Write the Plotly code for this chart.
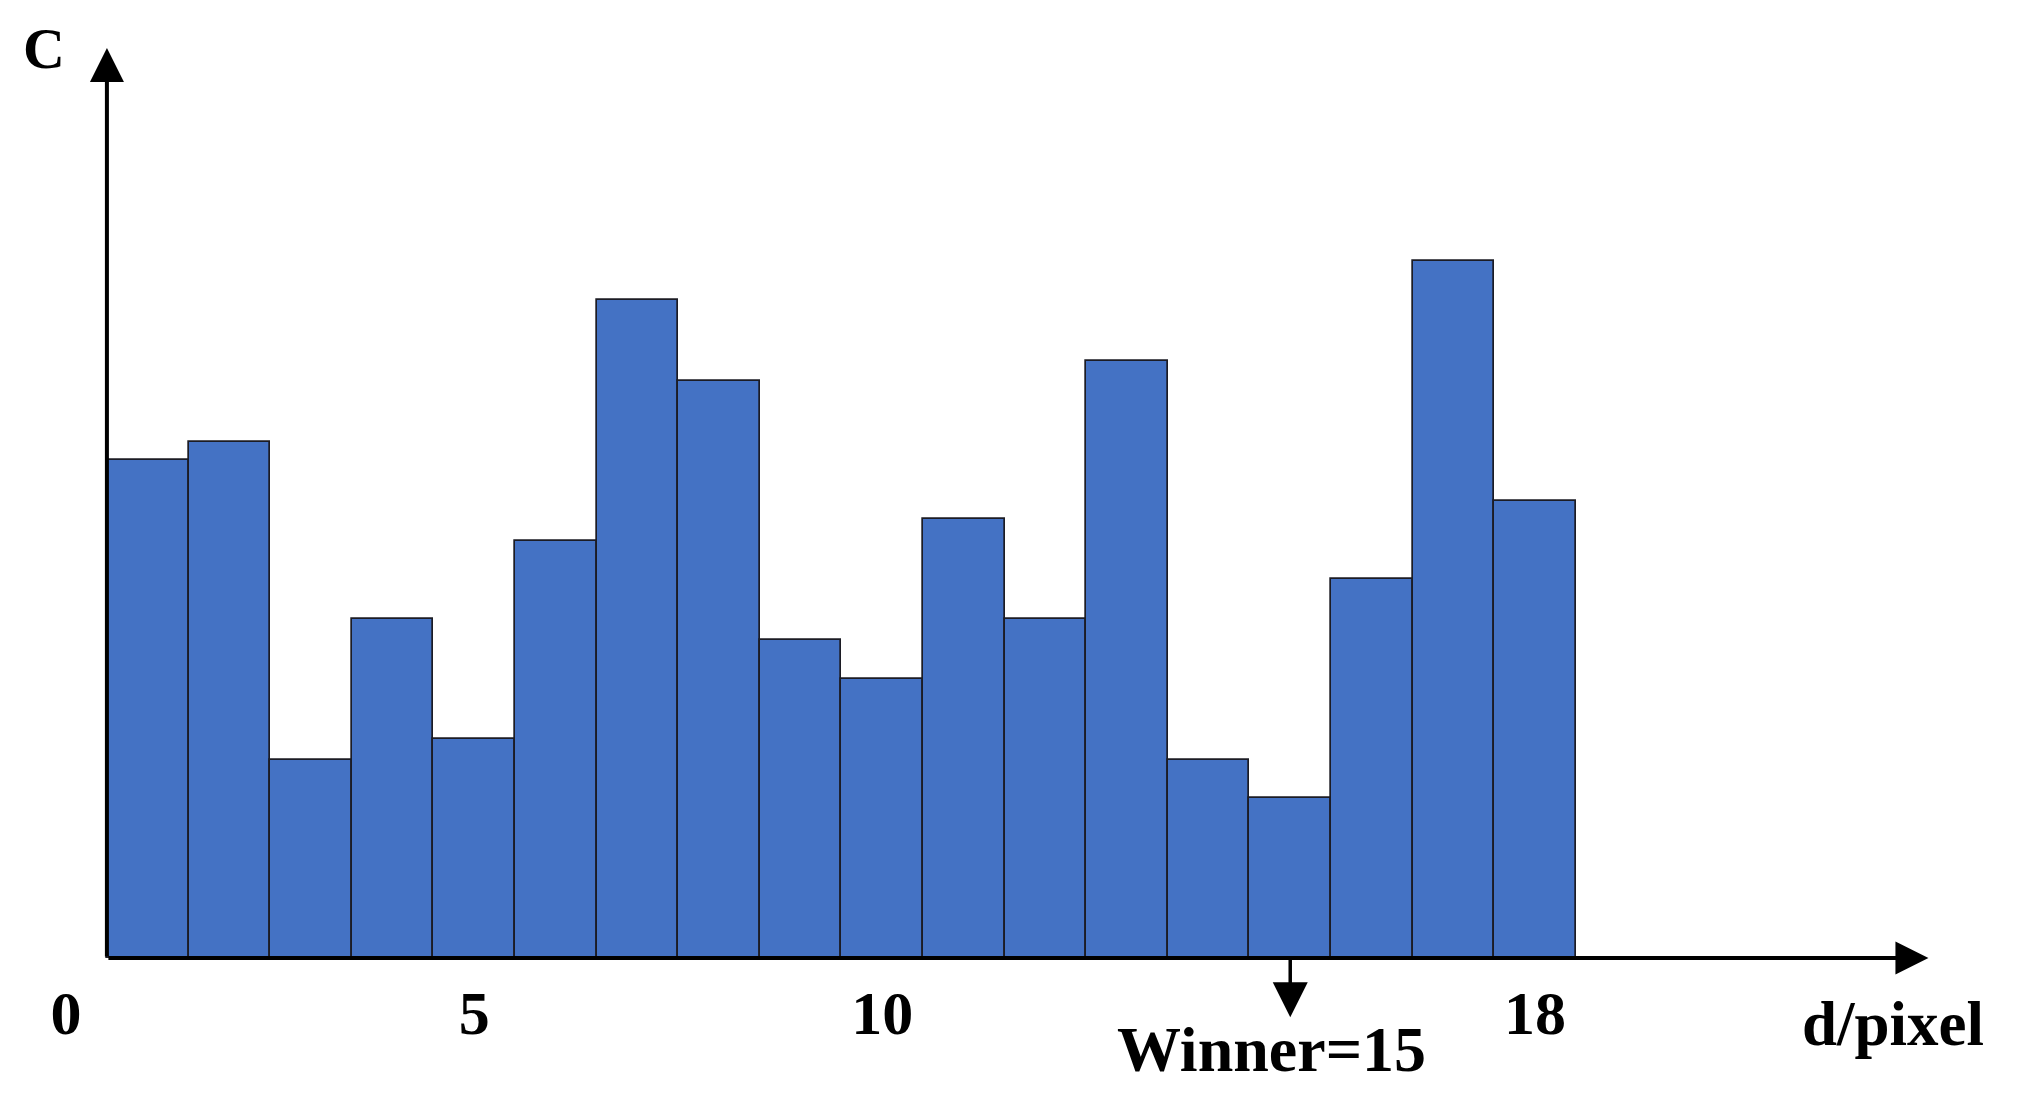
import plotly.graph_objects as go

# Data (arbitrary vertical units)
d_values = list(range(1, 19))
counts = [38.7, 40.1, 15.4, 26.3, 17.0, 32.4, 51.1, 44.8, 24.7,
          21.7, 34.1, 26.3, 46.4, 15.4, 12.4, 29.4, 54.1, 35.5]
tick_vals = [0, 5, 10, 18]
tick_text = ["0", "5", "10", "18"]
winner = 15
x_label = "d/pixel"
y_label = "C"

FONT = "Liberation Serif"

fig = go.Figure()
fig.add_trace(go.Bar(
    x=d_values, y=counts, width=1.0,
    marker=dict(color="#4472C4", line=dict(color="#1c1c24", width=1.7)),
    showlegend=False, hoverinfo="x+y",
))

x_end = 22.82
y_top = 70.67

annotations = [
    # y axis with arrow
    dict(x=0.5, y=y_top, ax=0.5, ay=0, xref="x", yref="y", axref="x", ayref="y",
         showarrow=True, arrowhead=2, arrowsize=1.7, arrowwidth=4, arrowcolor="black", text=""),
    # x axis with arrow
    dict(x=x_end, y=0, ax=0.5, ay=0, xref="x", yref="y", axref="x", ayref="y",
         showarrow=True, arrowhead=2, arrowsize=1.65, arrowwidth=4, arrowcolor="black", text=""),
    # winner arrow
    dict(x=winner, y=-4.6, ax=winner, ay=0, xref="x", yref="y", axref="x", ayref="y",
         showarrow=True, arrowhead=2, arrowsize=2.0, arrowwidth=3.5, arrowcolor="black", text=""),
    dict(x=-0.27, y=70.6, xref="x", yref="y", text="<b>%s</b>" % y_label, showarrow=False,
         xanchor="center", yanchor="middle",
         font=dict(family=FONT, size=58, color="black")),
    dict(x=22.38, y=-0.0695, xref="x", yref="paper", text="<b>%s</b>" % x_label, showarrow=False,
         xanchor="center", yanchor="middle",
         font=dict(family=FONT, size=63, color="black")),
    dict(x=14.77, y=-0.0958, xref="x", yref="paper", text="<b>Winner=%d</b>" % winner, showarrow=False,
         xanchor="center", yanchor="middle",
         font=dict(family=FONT, size=64, color="black")),
]

fig.update_layout(
    width=2011, height=1105,
    margin=dict(l=0, r=0, t=0, b=155),
    paper_bgcolor="white", plot_bgcolor="white",
    bargap=0,
    annotations=annotations,
    xaxis=dict(range=[-0.712, 23.93], showgrid=False, zeroline=False, showline=False,
               tickmode="array", tickvals=tick_vals,
               ticktext=["<b>%s</b>" % t for t in tick_text],
               ticks="", ticklabelstandoff=13,
               tickfont=dict(family=FONT, size=62, color="black")),
    yaxis=dict(range=[0, 73.78], showgrid=False, zeroline=False, showline=False,
               showticklabels=False, ticks=""),
)

fig.write_html("out.html")
